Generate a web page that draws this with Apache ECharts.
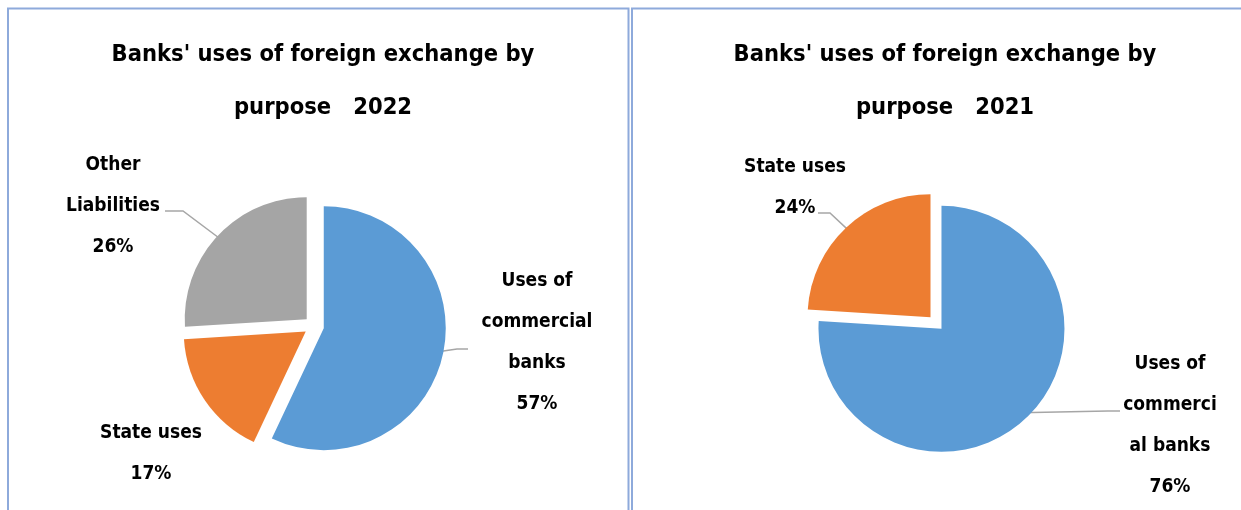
<!DOCTYPE html>
<html>
<head>
<meta charset="utf-8">
<script src="https://cdn.jsdelivr.net/npm/echarts@6/dist/echarts.min.js"></script>
<style>
html,body{margin:0;padding:0;background:#fff;}
#c{width:1241px;height:510px;}
</style>
</head>
<body>
<div id="c"></div>
<script>
// ---- data ----
const categories2022 = ["Uses of commercial banks", "State uses", "Other Liabilities"];
const labels2022 = ["Uses of\ncommercial\nbanks", "State uses", "Other\nLiabilities"];
const values2022 = [57, 17, 26];

const categories2021 = ["Uses of commercial banks", "State uses"];
const labels2021 = ["Uses of\ncommerci\nal banks", "State uses"];
const values2021 = [76, 24];

const title2022 = "Banks' uses of foreign exchange by\npurpose   2022";
const title2021 = "Banks' uses of foreign exchange by\npurpose   2021";

// ---- styles / layout ----
const COLORS = ["#5b9bd5", "#ed7d31", "#a5a5a5"];
const FONT = "'Liberation Sans Narrow','DejaVu Sans Condensed',sans-serif";
const BORDER = "#8eaadb";

// label text-block centres, leader-line end offsets from that centre, horizontal leader length
const labelLayout2022 = [
  { pos: [537, 343], end: [-69, 6], len2: 11, line: true },
  { pos: [151, 454], end: [0, 0], len2: 0, line: false },
  { pos: [113, 206], end: [52, 5], len2: 18, line: true }
];
const labelLayout2021 = [
  { pos: [1170, 426], end: [-50, -15], len2: 12, line: true },
  { pos: [795, 188], end: [23, 25], len2: 12, line: true }
];

function slicesSeries(center, radius, offset, cats, vals) {
  return {
    type: 'pie', z: 2,
    center: center, radius: radius,
    startAngle: 90, clockwise: true,
    selectedMode: 'multiple', selectedOffset: offset,
    animation: false, silent: true,
    emphasis: { disabled: true, scale: false },
    label: { show: false }, labelLine: { show: false },
    data: cats.map((c, i) => ({
      name: c, value: vals[i], selected: true,
      itemStyle: { color: COLORS[i] },
      select: { itemStyle: { color: COLORS[i] } }
    }))
  };
}

function labelsSeries(center, radius, cats, vals, labs, lay) {
  return {
    type: 'pie', z: 1,
    center: center, radius: radius,
    startAngle: 90, clockwise: true,
    selectedMode: false,
    animation: false, silent: true,
    emphasis: { disabled: true, scale: false },
    itemStyle: { color: 'rgba(0,0,0,0)' },
    label: {
      show: true, position: 'outside',
      color: '#000', fontFamily: FONT, fontWeight: 'bold',
      fontSize: 19, lineHeight: 41, align: 'center'
    },
    labelLine: {
      show: true, length: 12, length2: 12, smooth: false,
      lineStyle: { color: '#a6a6a6', width: 1.5 }
    },
    labelLayout: function (p) {
      const L = lay[p.dataIndex];
      const out = { x: L.pos[0], y: L.pos[1], align: 'center', verticalAlign: 'middle' };
      if (L.line && p.labelLinePoints && p.labelLinePoints.length) {
        const start = p.labelLinePoints[0];
        const ex = L.pos[0] + L.end[0], ey = L.pos[1] + L.end[1];
        const bx = L.end[0] < 0 ? ex - L.len2 : ex + L.len2;
        out.labelLinePoints = [[start[0], start[1]], [bx, ey], [ex, ey]];
      }
      return out;
    },
    data: cats.map((c, i) => ({
      name: c, value: vals[i],
      label: { formatter: labs[i] + "\n{d}%" },
      labelLine: { show: lay[i].line }
    }))
  };
}

const titleStyle = { fontFamily: FONT, fontWeight: 'bold', fontSize: 23.5, lineHeight: 53, color: '#000' };

const chart = echarts.init(document.getElementById('c'), null, { renderer: 'canvas' });
chart.setOption({
  backgroundColor: '#fff',
  animation: false,
  title: [
    { text: title2022, left: 318, top: 23, textAlign: 'center', textStyle: titleStyle },
    { text: title2021, left: 940, top: 23, textAlign: 'center', textStyle: titleStyle }
  ],
  graphic: [
    { type: 'polyline', shape: { points: [[8, 520], [8, 8.5], [628.5, 8.5], [628.5, 520]] },
      style: { stroke: BORDER, lineWidth: 2, fill: null }, silent: true },
    { type: 'polyline', shape: { points: [[632, 520], [632, 8.5], [1245, 8.5]] },
      style: { stroke: BORDER, lineWidth: 2, fill: null }, silent: true }
  ],
  series: [
    labelsSeries([314, 326], 122, categories2022, values2022, labels2022, labelLayout2022),
    slicesSeries([314, 326], 122, 10, categories2022, values2022),
    labelsSeries([936, 323], 123, categories2021, values2021, labels2021, labelLayout2021),
    slicesSeries([936, 323], 123, 8, categories2021, values2021)
  ]
});
</script>
</body>
</html>
